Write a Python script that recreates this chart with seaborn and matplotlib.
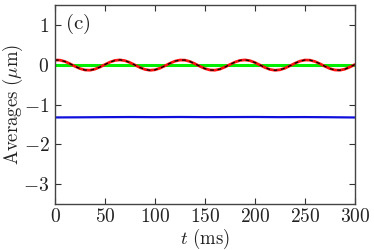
import numpy as np
import pandas as pd
import matplotlib
matplotlib.use("Agg")
import matplotlib.pyplot as plt
import seaborn as sns
from matplotlib.ticker import FuncFormatter

# values
t = list(range(0, 301, 5))
osc = [0.117, 0.114, 0.080, 0.024, -0.041, -0.098, -0.133, -0.138, -0.111, -0.059,
       0.005, 0.065, 0.107, 0.120, 0.101, 0.054, -0.008, -0.071, -0.119, -0.140,
       -0.128, -0.088, -0.028, 0.036, 0.089, 0.117, 0.114, 0.080, 0.024, -0.041,
       -0.098, -0.133, -0.138, -0.111, -0.059, 0.005, 0.065, 0.107, 0.120, 0.101,
       0.054, -0.008, -0.071, -0.119, -0.140, -0.128, -0.088, -0.028, 0.036, 0.089,
       0.117, 0.114, 0.080, 0.024, -0.041, -0.098, -0.133, -0.138, -0.111, -0.059,
       0.005]
t_flat = [0, 25, 50, 75, 100, 125, 150, 175, 200, 225, 250, 275, 300]
green = [0.0] * len(t_flat)
blue = [-1.325, -1.322, -1.318, -1.315, -1.318, -1.314, -1.318, -1.316, -1.314, -1.318, -1.316, -1.320, -1.326]

df = pd.DataFrame({"t": t, "osc": osc})
dflat = pd.DataFrame({"t": t_flat, "green": green, "blue": blue})

sns.set_style("ticks")
plt.rcParams["mathtext.fontset"] = "cm"
plt.rcParams["font.family"] = ["DejaVu Serif"]

fig = plt.figure(figsize=(3.74, 2.5), dpi=100)
ax = fig.add_axes([0.147, 0.184, 0.802, 0.796])

sns.lineplot(data=dflat, x="t", y="green", color="#00ee00", lw=2.2, ax=ax)
sns.lineplot(data=dflat, x="t", y="blue", color="#1010dd", lw=1.6, ax=ax)
sns.lineplot(data=df, x="t", y="osc", color="#ff1010", lw=2.0, ax=ax)
sns.lineplot(data=df, x="t", y="osc", color="black", lw=0.9, ax=ax, linestyle=(0, (3, 3)))

ax.set_xlim(0, 300)
ax.set_ylim(-3.5, 1.5)
ax.set_xticks([0, 50, 100, 150, 200, 250, 300])
ax.set_yticks([-3, -2, -1, 0, 1])
ax.xaxis.set_major_formatter(FuncFormatter(lambda v, p: r"$%d$" % v))
ax.yaxis.set_major_formatter(FuncFormatter(lambda v, p: r"$%d$" % v))
ax.tick_params(direction="in", length=4, width=0.8, top=True, right=True,
               labelsize=14, colors="#333333", pad=4)
ax.tick_params(axis="x", pad=3)
ax.tick_params(labelcolor="#222222")
for s in ax.spines.values():
    s.set_color("#444444")
    s.set_linewidth(1.0)

ax.set_xlabel(r"$t\ (\mathrm{ms})$", fontsize=13.5, color="#222222")
ax.xaxis.set_label_coords(0.5, -0.115)
ax.set_ylabel(r"$\mathrm{Averages}\ (\mu\mathrm{m})$", fontsize=13.5, color="#222222")
ax.yaxis.set_label_coords(-0.1, 0.5)
ax.text(0.035, 0.965, r"$\mathrm{(c)}$", transform=ax.transAxes, fontsize=15,
        va="top", ha="left", color="#222222")

fig.savefig("out.png", dpi=100)
